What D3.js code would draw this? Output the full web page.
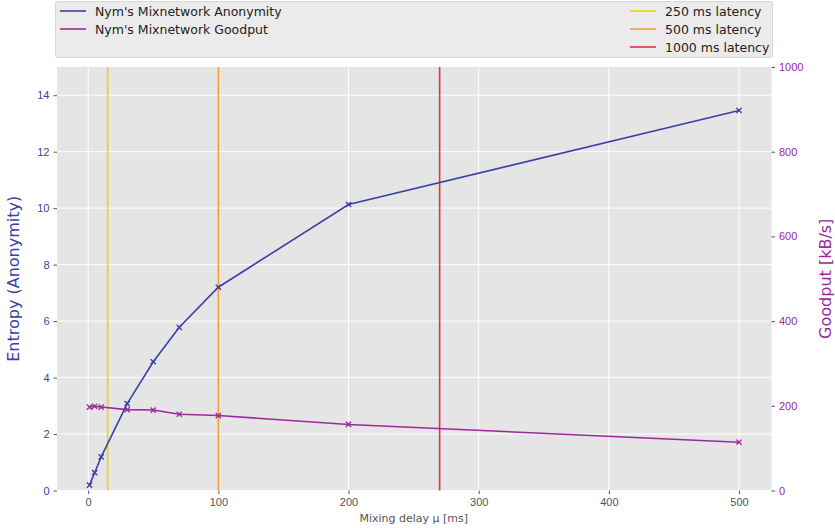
<!DOCTYPE html>
<html><head><meta charset="utf-8">
<script src="https://cdn.jsdelivr.net/npm/d3@7"></script>
<style>body{margin:0;background:#fff}svg{display:block;font-family:"DejaVu Sans",sans-serif}</style>
</head><body><svg id="c" width="835" height="528"></svg>
<script>
const delays = [1, 5, 10, 30, 50, 70, 100, 200, 500];
const entropy = [0.19, 0.63, 1.19, 3.08, 4.56, 5.78, 7.2, 10.13, 13.46];
const goodput = [197, 199, 197, 191, 190, 180, 177, 156, 114];
const latencyLabels = ["250 ms latency", "500 ms latency", "1000 ms latency"];
const latencyDelays = [15, 100, 270];
const latencyColors = ["#f2cf1a", "#eea331", "#e0363a"];
const seriesLabels = ["Nym's Mixnetwork Anonymity", "Nym's Mixnetwork Goodput"];
const xTicks = [0, 100, 200, 300, 400, 500];
const yTicks = [0, 2, 4, 6, 8, 10, 12, 14];
const y2Ticks = [0, 200, 400, 600, 800, 1000];

const blue = "#3a41a8", purple = "#9b2a9e";
const svg = d3.select("#c");
const L = 57, R = 771.5, T = 67, B = 490.5;
const x = d3.scaleLinear().domain([-23.95, 524.95]).range([L, R]);
const y = d3.scaleLinear().domain([0, 15]).range([B, T]);
const y2 = d3.scaleLinear().domain([0, 1000]).range([B, T]);

svg.append("rect").attr("x", L).attr("y", T).attr("width", R - L).attr("height", B - T).attr("fill", "#e5e5e5");
// grid
svg.append("g").selectAll("line").data(yTicks).join("line")
  .attr("x1", L).attr("x2", R).attr("y1", d => y(d)).attr("y2", d => y(d)).attr("stroke", "#fff").attr("stroke-width", 1);
svg.append("g").selectAll("line").data(xTicks).join("line")
  .attr("y1", T).attr("y2", B).attr("x1", d => x(d)).attr("x2", d => x(d)).attr("stroke", "#fff").attr("stroke-width", 1);

// axes
const ax = svg.append("g").attr("transform", `translate(0,${B})`)
  .call(d3.axisBottom(x).tickValues(xTicks).tickSize(3.5).tickPadding(4).tickFormat(d3.format("d")));
ax.select(".domain").remove();
ax.selectAll("text").attr("fill", "#555").attr("font-size", 11);
ax.selectAll("line").attr("stroke", "#555");

const ayl = svg.append("g").attr("transform", `translate(${L},0)`)
  .call(d3.axisLeft(y).tickValues(yTicks).tickSize(3.5).tickPadding(4).tickFormat(d3.format("d")));
ayl.select(".domain").remove();
ayl.selectAll("text").attr("fill", blue).attr("font-size", 11);
ayl.selectAll("line").attr("stroke", "#555");

const ayr = svg.append("g").attr("transform", `translate(${R},0)`)
  .call(d3.axisRight(y2).tickValues(y2Ticks).tickSize(3.5).tickPadding(4).tickFormat(d3.format("d")));
ayr.select(".domain").remove();
ayr.selectAll("text").attr("fill", purple).attr("font-size", 11);
ayr.selectAll("line").attr("stroke", "#555");

// latency lines
svg.append("g").selectAll("line").data(latencyDelays).join("line")
  .attr("x1", d => x(d)).attr("x2", d => x(d)).attr("y1", T).attr("y2", B)
  .attr("stroke", (d, i) => latencyColors[i]).attr("stroke-width", 1.6);

function series(vals, sc, col) {
  const pts = delays.map((d, i) => [x(d), sc(vals[i])]);
  svg.append("path").attr("d", d3.line()(pts)).attr("fill", "none").attr("stroke", col).attr("stroke-width", 1.6);
  const g = svg.append("g");
  pts.forEach(p => {
    const s = 2.6;
    g.append("path").attr("d", `M${p[0]-s},${p[1]-s}L${p[0]+s},${p[1]+s}M${p[0]-s},${p[1]+s}L${p[0]+s},${p[1]-s}`)
      .attr("stroke", col).attr("stroke-width", 1.4);
  });
}
series(goodput, y2, purple);
series(entropy, y, blue);

// labels
svg.append("text").attr("x", (L + R) / 2 - 0.5).attr("y", 522).attr("text-anchor", "middle").attr("fill", "#555").attr("font-size", 11).text("Mixing delay μ [ms]");
svg.append("text").attr("transform", `translate(19,${(T + B) / 2}) rotate(-90)`).attr("text-anchor", "middle").attr("fill", blue).attr("font-size", 16).text("Entropy (Anonymity)");
svg.append("text").attr("transform", `translate(830.5,${(T + B) / 2}) rotate(-90)`).attr("text-anchor", "middle").attr("fill", purple).attr("font-size", 16).text("Goodput [kB/s]");

// legend
svg.append("rect").attr("x", 55.5).attr("y", 1.5).attr("width", 717).attr("height", 56).attr("rx", 2)
  .attr("fill", "#ebebeb").attr("stroke", "#d8d8d8");
const leftItems = seriesLabels.map((t, i) => ({t, c: [blue, purple][i], x: 60, y: 11 + i * 18}));
const rightItems = latencyLabels.map((t, i) => ({t, c: latencyColors[i], x: 630, y: 11 + i * 18}));
const items = leftItems.concat(rightItems);
const lg = svg.append("g").selectAll("g").data(items).join("g");
lg.append("line").attr("x1", d => d.x).attr("x2", d => d.x + 26).attr("y1", d => d.y).attr("y2", d => d.y)
  .attr("stroke", d => d.c).attr("stroke-width", 1.6);
lg.append("text").attr("x", d => d.x + 35).attr("y", d => d.y + 4.5).attr("font-size", 12.5).attr("fill", "#222").text(d => d.t);
</script></body></html>
